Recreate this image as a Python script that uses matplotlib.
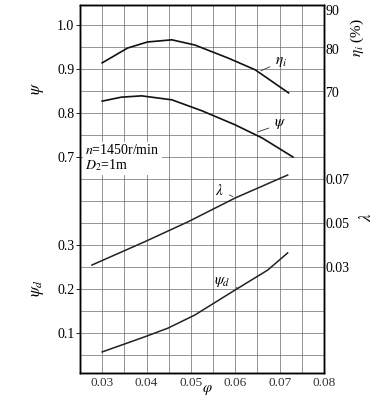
import matplotlib
matplotlib.use("Agg")
import matplotlib.pyplot as plt
from matplotlib.ticker import MultipleLocator

plt.rcParams['font.family'] = ['Liberation Serif', 'DejaVu Serif']
plt.rcParams['mathtext.fontset'] = 'stix'

# data
phi_eta = [0.030, 0.0357, 0.0402, 0.0457, 0.0509, 0.0584, 0.0645, 0.0720]
eta = [76.7, 80.1, 81.5, 82.0, 80.8, 77.8, 75.1, 69.8]

phi_psi = [0.030, 0.0343, 0.0389, 0.0457, 0.0525, 0.060, 0.0661, 0.0730]
psi = [0.827, 0.836, 0.839, 0.830, 0.805, 0.773, 0.743, 0.700]

phi_lam = [0.0277, 0.0395, 0.0493, 0.060, 0.0718]
lam = [0.0309, 0.0414, 0.0505, 0.0614, 0.0718]

phi_psid = [0.030, 0.0395, 0.0448, 0.0509, 0.060, 0.0673, 0.0718]
psid = [0.057, 0.091, 0.111, 0.141, 0.198, 0.243, 0.282]

x_ticks = [0.03, 0.04, 0.05, 0.06, 0.07, 0.08]
psi_ticks = [0.7, 0.8, 0.9, 1.0]
psid_ticks = [0.1, 0.2, 0.3]
eta_ticks = [70, 80, 90]
lam_ticks = [0.03, 0.05, 0.07]

fig = plt.figure(figsize=(3.85, 3.98), dpi=100)
ax = fig.add_axes([0.2078, 0.0628, 0.6338, 0.9246])

# main axes: psi_d scale + grid
ax.set_xlim(0.025, 0.08)
ax.set_ylim(0.0091, 0.8455)
ax.xaxis.set_minor_locator(MultipleLocator(0.005))
ax.yaxis.set_minor_locator(MultipleLocator(0.05))
ax.set_xticks(x_ticks)
ax.set_xticklabels([f"{v:.2f}" for v in x_ticks], fontsize=9.5)
ax.set_yticks(psid_ticks)
ax.set_yticklabels([f"{v:.1f}" for v in psid_ticks], fontsize=10)
ax.grid(which='both', color='#6a6a6a', lw=0.5)
ax.tick_params(which='minor', length=0)
ax.tick_params(axis='x', length=0, pad=3, colors='#333333')
ax.tick_params(axis='y', length=3, pad=1, width=0.6)
ax.plot(phi_psid, psid, color='#222222', lw=1.1)

ax_psi = ax.twinx()
ax_psi.set_ylim(0.209, 1.0455)
ax_psi.yaxis.tick_left()
ax_psi.set_yticks(psi_ticks)
ax_psi.set_yticklabels([f"{v:.1f}" for v in psi_ticks], fontsize=10)
ax_psi.tick_params(axis='y', length=3, pad=1, width=0.6)
ax_psi.plot(phi_psi, psi, color='#111111', lw=1.2)

ax_eta = ax.twinx()
ax_eta.set_ylim(5.4, 90)
ax_eta.set_yticks(eta_ticks)
ax_eta.set_yticklabels([str(v) for v in eta_ticks], fontsize=10)
ax_eta.get_yticklabels()[-1].set_va('top')
ax_eta.tick_params(axis='y', length=0, pad=1)
ax_eta.plot(phi_eta, eta, color='#111111', lw=1.2)

ax_lam = ax.twinx()
ax_lam.set_ylim(-0.0182, 0.1491)
ax_lam.set_yticks(lam_ticks)
ax_lam.set_yticklabels([f"{v:.2f}" for v in lam_ticks], fontsize=10)
ax_lam.tick_params(axis='y', length=0, pad=1)
ax_lam.plot(phi_lam, lam, color='#222222', lw=1.1)

for a in (ax, ax_psi, ax_eta, ax_lam):
    for s in a.spines.values():
        s.set_linewidth(0.9)

# curve labels with leader lines
lbl = dict(fontsize=11, arrowprops=dict(arrowstyle='-', lw=0.6, color='#333333'),
           ha='left', va='center')
ax_eta.annotate(r'$\eta_i$', xy=(0.0652, 74.6), xytext=(0.0690, 77.0), **lbl)
ax_psi.annotate(r'$\psi$', xy=(0.0645, 0.755), xytext=(0.0688, 0.775), **lbl)
ax_lam.annotate(r'$\lambda$', xy=(0.0600, 0.0614), xytext=(0.0555, 0.0650), **lbl)
ax.annotate(r'$\psi_d$', xy=(0.0605, 0.202), xytext=(0.0553, 0.216), **lbl)

ax.text(0.0262, 0.498, '$n$=1450r/min\n$D_2$=1m', fontsize=10,
        ha='left', va='center', linespacing=0.95,
        bbox=dict(facecolor='white', edgecolor='none', pad=1.5))

# axis titles
fig.text(38 / 385, 1 - 88 / 398, r'$\psi$', rotation=90, fontsize=12,
         ha='center', va='center')
fig.text(38 / 385, 1 - 288 / 398, r'$\psi_d$', rotation=90, fontsize=12,
         ha='center', va='center')
fig.text(357 / 385, 1 - 38 / 398, r'$\eta_i$ (%)', rotation=90, fontsize=11,
         ha='center', va='center')
fig.text(367 / 385, 1 - 217 / 398, r'$\lambda$', rotation=90, fontsize=12,
         ha='center', va='center')
fig.text(207 / 385, 1 - 390 / 398, r'$\varphi$', fontsize=10.5,
         ha='center', va='center')

fig.savefig('out.png', dpi=100)
